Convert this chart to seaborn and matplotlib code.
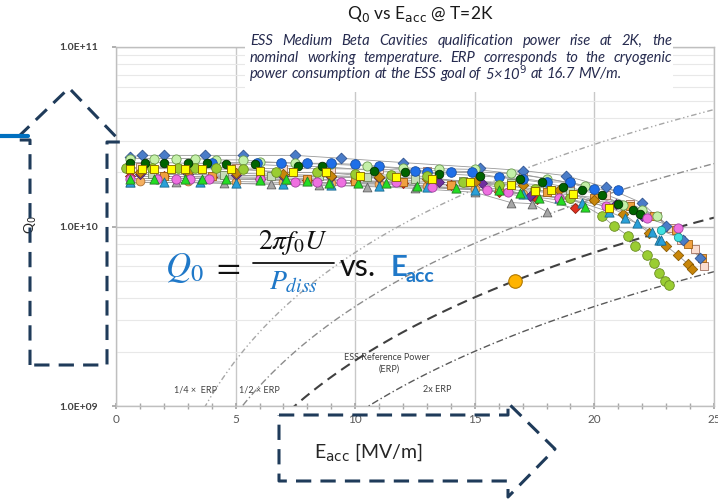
import numpy as np
import matplotlib
matplotlib.use("Agg")
import matplotlib.pyplot as plt
import seaborn as sns
from matplotlib.lines import Line2D
from matplotlib.patches import Rectangle
from matplotlib.ticker import FixedLocator, NullFormatter, LogLocator

# ---------------- data (Q0 in units of 1e10) ----------------
Q_SCALE = 1e10

e_gray_tri = [0.6, 2.5, 4.5, 6.5, 8.5, 10.5, 12.5, 15.0, 16.5, 17.4, 18.0]
q_gray_tri = [1.76, 1.76, 1.74, 1.72, 1.70, 1.67, 1.63, 1.55, 1.36, 1.34, 1.21]

e_sandy = [1.0, 3.0, 5.0, 7.0, 9.0, 11.0, 13.0, 15.0, 17.0, 18.5]
q_sandy = [1.80, 1.80, 1.78, 1.76, 1.74, 1.72, 1.68, 1.62, 1.52, 1.45]

e_red = [0.6, 2.0, 4.0, 6.0, 8.0, 10.0, 12.0, 14.0, 16.0, 17.6, 19.2]
q_red = [1.90, 1.90, 1.88, 1.85, 1.82, 1.80, 1.75, 1.70, 1.55, 1.43, 1.26]

e_purple = [1.0, 3.0, 5.0, 7.0, 9.0, 11.0, 13.5, 15.3, 17.3, 19.0, 20.9, 22.0]
q_purple = [1.95, 1.95, 1.93, 1.90, 1.88, 1.86, 1.76, 1.74, 1.48, 1.45, 1.34, 1.15]

e_sage = [1.5, 3.0, 4.5, 6.5, 8.5, 10.5, 12.5, 14.5, 16.5, 18.0, 19.0]
q_sage = [1.95, 1.95, 1.93, 1.92, 1.90, 1.88, 1.85, 1.80, 1.75, 1.70, 1.60]

e_peach = [1.0, 3.0, 5.0, 7.0, 9.0, 11.0, 13.0, 15.0, 17.0, 19.0, 20.5, 21.5, 22.6, 23.2, 23.6, 24.2, 24.6]
q_peach = [2.15, 2.15, 2.12, 2.10, 2.10, 2.08, 2.05, 2.02, 1.95, 1.75, 1.50, 1.34, 1.15, 0.98, 0.84, 0.75, 0.60]

e_orange_sq = [2.0, 4.0, 6.0, 8.0, 10.0, 12.0, 14.0, 16.0, 18.0, 20.0, 21.5, 22.5, 23.4, 23.9, 24.5]
q_orange_sq = [1.90, 1.90, 1.88, 1.85, 1.80, 1.78, 1.70, 1.62, 1.55, 1.45, 1.30, 1.15, 0.95, 0.80, 0.67]

e_goldenrod = [1.0, 3.0, 5.0, 7.0, 9.0, 11.0, 13.0, 15.0, 17.0, 18.5, 20.0, 21.2, 22.3, 23.0, 23.5, 23.9, 24.1]
q_goldenrod = [2.00, 2.00, 1.98, 1.95, 1.92, 1.88, 1.84, 1.78, 1.70, 1.60, 1.40, 1.18, 0.92, 0.78, 0.69, 0.62, 0.58]

e_steel = [0.6, 1.1, 2.0, 3.7, 5.3, 7.5, 9.4, 12.0, 15.2, 17.0, 18.8, 20.5, 22.0, 23.0, 23.7, 24.4]
q_steel = [2.45, 2.49, 2.49, 2.49, 2.49, 2.49, 2.40, 2.27, 2.13, 2.05, 1.92, 1.65, 1.35, 1.01, 0.84, 0.67]

e_pale = [0.6, 1.6, 2.5, 3.3, 4.2, 5.3, 6.0, 7.5, 9.0, 10.5, 12.0, 13.5, 15.0, 16.5, 18.0, 19.6, 21.2, 22.0, 22.6]
q_pale = [2.39, 2.39, 2.39, 2.39, 2.35, 2.35, 2.30, 2.25, 2.22, 2.18, 2.12, 2.10, 2.08, 1.98, 1.85, 1.69, 1.31, 1.23, 1.15]

e_ygreen = [0.4, 1.5, 2.6, 3.3, 4.2, 5.3, 6.7, 8.4, 10.0, 11.5, 13.0, 14.5, 16.0, 17.5, 19.0, 20.3, 20.8, 21.4, 21.7, 22.2, 22.5, 22.7, 22.95, 23.1]
q_ygreen = [2.13, 2.13, 2.13, 2.13, 2.13, 2.10, 2.00, 2.00, 1.97, 1.93, 1.90, 1.76, 1.70, 1.62, 1.45, 1.15, 1.01, 0.89, 0.78, 0.69, 0.63, 0.55, 0.50, 0.475]

e_blue = [4.0, 5.9, 6.9, 8.0, 9.0, 10.0, 11.0, 12.5, 13.0, 14.0, 14.9, 16.0, 17.0, 18.0, 19.0, 20.0, 21.0]
q_blue = [2.27, 2.27, 2.27, 2.25, 2.25, 2.22, 2.16, 2.05, 2.00, 2.00, 2.00, 1.88, 1.85, 1.77, 1.77, 1.62, 1.59]

e_sky_tri = [0.6, 2.0, 3.5, 5.0, 7.0, 9.0, 11.0, 13.0, 15.0, 17.0, 18.5, 19.5, 20.6, 21.3, 21.8, 22.4, 22.7, 22.8]
q_sky_tri = [1.76, 1.76, 1.76, 1.74, 1.72, 1.70, 1.68, 1.65, 1.60, 1.52, 1.45, 1.35, 1.21, 1.11, 1.04, 0.93, 0.84, 0.84]

e_dkgreen = [0.6, 1.2, 2.0, 3.0, 3.8, 4.6, 5.8, 7.6, 8.6, 10.8, 12.1, 13.5, 15.2, 16.9, 17.8, 18.7, 19.5, 20.3, 21.0, 21.6, 21.9]
q_dkgreen = [2.27, 2.27, 2.27, 2.25, 2.25, 2.24, 2.22, 2.16, 2.16, 2.05, 2.00, 1.97, 1.92, 1.83, 1.76, 1.67, 1.59, 1.49, 1.34, 1.23, 1.18]

e_violet = [0.6, 1.7, 2.5, 3.1, 3.9, 6.0, 7.5, 8.4, 9.4, 11.7, 13.2, 15.5, 16.4, 18.5, 20.5, 22.2, 23.5]
q_violet = [1.85, 1.85, 1.85, 1.85, 1.85, 1.83, 1.78, 1.76, 1.76, 1.76, 1.65, 1.59, 1.55, 1.45, 1.30, 1.11, 0.98]

e_green_tri = [0.6, 1.6, 2.9, 3.6, 4.6, 6.0, 7.1, 8.0, 8.9, 10.1, 11.3, 12.6, 14.2, 16.0, 16.9, 17.7, 18.6, 19.6]
q_green_tri = [1.85, 1.85, 1.85, 1.85, 1.84, 1.82, 1.83, 1.80, 1.74, 1.74, 1.74, 1.69, 1.63, 1.59, 1.53, 1.45, 1.40, 1.28]

e_yellow_sq = [0.6, 1.1, 1.6, 2.3, 2.9, 3.6, 4.8, 6.0, 7.4, 8.8, 10.2, 11.7, 13.2, 14.8, 16.5, 17.5, 18.2, 19.1, 20.6]
q_yellow_sq = [2.10, 2.10, 2.10, 2.10, 2.10, 2.10, 2.08, 2.05, 2.00, 2.00, 1.92, 1.88, 1.85, 1.76, 1.71, 1.57, 1.59, 1.51, 1.26]

e_cyan = [22.8, 23.5]
q_cyan = [0.95, 0.87]

e_goal = [16.7]
q_goal = [0.5]

ERP_E_GOAL = 16.7
ERP_Q_GOAL = 5e9
ERP_FACTORS = [0.25, 0.5, 1.0, 2.0]

x_ticks = [0, 5, 10, 15, 20, 25]
y_ticks = [1e9, 1e10, 1e11]
y_tick_labels = ["1.0E+09", "1.0E+10", "1.0E+11"]

# ---------------- styles ----------------
series = [
    (e_gray_tri, q_gray_tri, "^", "#a6a6a6", "#606060", 40),
    (e_sandy, q_sandy, "o", "#f5b060", "#b07030", 40),
    (e_red, q_red, "D", "#e03020", "#902010", 26),
    (e_purple, q_purple, "D", "#7030a0", "#4a2070", 26),
    (e_sage, q_sage, "s", "#c5dcb8", "#708060", 38),
    (e_peach, q_peach, "s", "#fadcd0", "#a07060", 40),
    (e_orange_sq, q_orange_sq, "s", "#f0a040", "#a06010", 34),
    (e_goldenrod, q_goldenrod, "D", "#c8860a", "#8a5a00", 28),
    (e_steel, q_steel, "D", "#4a7cc8", "#2f528f", 30),
    (e_pale, q_pale, "o", "#c4f0a8", "#6a9a50", 44),
    (e_blue, q_blue, "o", "#1f6fe8", "#1a4fa0", 48),
    (e_ygreen, q_ygreen, "o", "#9acd32", "#6b8e23", 48),
    (e_sky_tri, q_sky_tri, "^", "#2aa0d8", "#1a6a90", 44),
    (e_dkgreen, q_dkgreen, "o", "#006400", "#003000", 38),
    (e_violet, q_violet, "o", "#ee70e0", "#a040a0", 44),
    (e_green_tri, q_green_tri, "^", "#22dd22", "#2a7a2a", 44),
    (e_yellow_sq, q_yellow_sq, "s", "#ffff00", "#7f6000", 38),
    (e_cyan, q_cyan, "o", "#40e0e0", "#209090", 36),
]

erp_styles = {
    0.25: dict(color="#a6a6a6", lw=1.0, dashes=(4, 2, 1, 2, 1, 2)),
    0.5: dict(color="#8c8c8c", lw=1.0, dashes=(5, 2, 1, 2)),
    1.0: dict(color="#404040", lw=1.5, dashes=(5, 3)),
    2.0: dict(color="#595959", lw=1.0, dashes=(5, 2, 1, 2)),
}

W, H = 718, 499
sns.set_theme(style="white")
plt.rcParams["font.family"] = ["Lato", "DejaVu Sans"]

fig = plt.figure(figsize=(W / 100, H / 100), dpi=100)
fig.patch.set_facecolor("white")

AX_L, AX_R, AX_T, AX_B = 116, 714, 47, 406
ax = fig.add_axes([AX_L / W, 1 - AX_B / H, (AX_R - AX_L) / W, (AX_B - AX_T) / H])
ax.set_facecolor("white")

# ERP reference curves
e_curve = np.linspace(0.3, 25, 300)
for f in ERP_FACTORS:
    st = erp_styles[f]
    q_curve = ERP_Q_GOAL / f * (e_curve / ERP_E_GOAL) ** 2
    sns.lineplot(x=e_curve, y=q_curve, ax=ax, color=st["color"], lw=st["lw"],
                 dashes=False, legend=False, zorder=2, sort=False, estimator=None)
    ax.lines[-1].set_dashes(st["dashes"])

# data series
for i, (E, Q, m, face, edge, s) in enumerate(series):
    Qa = np.asarray(Q) * Q_SCALE
    sns.lineplot(x=E, y=Qa, ax=ax, color="#9a9a9a", lw=0.6, legend=False,
                 zorder=3, sort=False, estimator=None)
    sns.scatterplot(x=E, y=Qa, ax=ax, marker=m, s=s, color=face, edgecolor=edge,
                    linewidth=0.6, legend=False, zorder=4 + i * 0.01)

sns.scatterplot(x=e_goal, y=np.asarray(q_goal) * Q_SCALE, ax=ax, marker="o", s=95,
                color="#ffb400", edgecolor="#b07800", linewidth=0.8, legend=False, zorder=6)

ax.set_yscale("log")
ax.set_xlim(0, 25)
ax.set_ylim(1e9, 1e11)
ax.set_xticks(x_ticks)
ax.set_xticklabels([str(t) for t in x_ticks], fontsize=8.5, color="#595959")
ax.xaxis.set_minor_locator(FixedLocator(list(range(0, 26))))
ax.set_yticks(y_ticks)
ax.set_yticklabels(y_tick_labels, fontsize=7.5, color="#404040", fontweight="bold")
ax.yaxis.set_minor_locator(LogLocator(base=10, subs=np.arange(2, 10)))
ax.yaxis.set_minor_formatter(NullFormatter())
ax.set_xlabel("")
ax.set_ylabel("")

ax.grid(which="major", axis="x", color="#c8c8c8", lw=1.0)
ax.grid(which="major", axis="y", color="#bfbfbf", lw=1.0)
ax.grid(which="minor", axis="y", color="#e8e8e8", lw=0.8)
ax.grid(which="minor", axis="x", visible=False)
ax.set_axisbelow(True)
ax.tick_params(axis="x", which="both", bottom=True, direction="inout", length=4,
               color="#a6a6a6", pad=4)
ax.tick_params(axis="y", which="major", left=True, direction="out", length=3,
               color="#a6a6a6", pad=10)
ax.tick_params(axis="y", which="minor", left=False)
for sp in ax.spines.values():
    sp.set_color("#bfbfbf")
    sp.set_linewidth(1.0)


def fx(x):
    return x / W


def fy(y):
    return 1 - y / H


def ftext(x, y, s, **kw):
    return fig.text(fx(x), fy(y), s, **kw)


# ERP labels
lab_kw = dict(fontsize=6.5, color="#404040", ha="center", va="center")
ftext(195, 390, "1/4 \u00d7  ERP", **lab_kw)
ftext(259, 390, "1/2 \u00d7 ERP", **lab_kw)
ftext(387, 357, "ESS Reference Power", **lab_kw)
ftext(389, 369, "(ERP)", **lab_kw)
ftext(437, 390, "2x ERP", **lab_kw)

# title
ftext(420, 14, r"Q$_0$ vs E$_{\mathrm{acc}}$ @ T=2K", fontsize=12.5, color="#1a1a1a",
      ha="center", va="center", math_fontfamily="dejavusans")

# white box behind annotation
fig.add_artist(Rectangle((fx(245), fy(92)), (673 - 245) / W, (92 - 30) / H,
                         transform=fig.transFigure, facecolor="white",
                         edgecolor="none", zorder=1))

# justified annotation
ann_lines = [
    "ESS Medium Beta Cavities qualification power rise at 2K, the",
    "nominal working temperature. ERP corresponds to the cryogenic",
    "power consumption at the ESS goal of 5\u00d710$^9$ at 16.7 MV/m.",
]
ann_y = [41, 58, 74]
ann_x0, ann_x1 = 250, 672
renderer = fig.canvas.get_renderer()
for li, (line, yy) in enumerate(zip(ann_lines, ann_y)):
    words = line.split(" ")
    objs = [ftext(ann_x0, yy, w, fontsize=10.6, style="italic", color="#262b4f",
                  ha="left", va="center", zorder=2, math_fontfamily="dejavusans")
            for w in words]
    widths = [o.get_window_extent(renderer).width for o in objs]
    if li < len(ann_lines) - 1:
        gap = (ann_x1 - ann_x0 - sum(widths)) / (len(words) - 1)
    else:
        gap = 3.4
    x = ann_x0
    for o, w in zip(objs, widths):
        o.set_x(fx(x))
        x += w + gap

# formula
BLUE = "#1f78c8"
ftext(165, 268, r"$Q_0$", fontsize=25, color=BLUE, ha="left", va="center",
      math_fontfamily="stix")
ftext(226, 266, r"$=$", fontsize=25, color="#111111", ha="center", va="center",
      math_fontfamily="stix")
ftext(293, 243, r"$2\pi f_0 U$", fontsize=20, color="#111111", ha="center",
      va="center", math_fontfamily="stix")
fig.add_artist(Line2D([fx(253), fx(334)], [fy(263), fy(263)], transform=fig.transFigure,
                      color="#111111", lw=1.3, zorder=5))
ftext(293, 282, r"$P_{diss}$", fontsize=20, color=BLUE, ha="center", va="center",
      math_fontfamily="stix")
ftext(340, 267, "vs.", fontsize=22, color="#111111", ha="left", va="center")
ftext(391, 276, "E", fontsize=21, color=BLUE, ha="left", va="baseline",
      fontweight="bold")
ftext(406, 282, "acc", fontsize=14, color=BLUE, ha="left", va="baseline",
      fontweight="bold")

# axis labels
ftext(31, 225, "Q$_0$", fontsize=10, color="#262626", rotation=90, ha="center",
      va="center", math_fontfamily="dejavusans")
ftext(368, 452, r"E$_{\mathrm{acc}}$ [MV/m]", fontsize=14, color="#262626", ha="center",
      va="center", math_fontfamily="dejavusans")

# dashed arrow outlines
ARROW = "#1f3b5a"
up_x = [30, 30, 15, 69, 121, 107, 107, 30]
up_y = [365, 140, 140, 88, 142, 142, 365, 365]
fig.add_artist(Line2D([fx(v) for v in up_x], [fy(v) for v in up_y],
                      transform=fig.transFigure, color=ARROW, lw=2.2,
                      dashes=(5, 3), zorder=6))
rt_x = [279, 508, 508, 555, 508, 508, 279, 279]
rt_y = [415, 415, 403, 449, 497, 481, 481, 415]
fig.add_artist(Line2D([fx(v) for v in rt_x], [fy(v) for v in rt_y],
                      transform=fig.transFigure, color=ARROW, lw=2.2,
                      dashes=(5, 3), zorder=6))
# solid blue bar at the top-left
fig.add_artist(Line2D([fx(0), fx(28)], [fy(136), fy(136)], transform=fig.transFigure,
                      color="#0070c0", lw=3.0, zorder=6))

fig.savefig("out.png", dpi=100)
